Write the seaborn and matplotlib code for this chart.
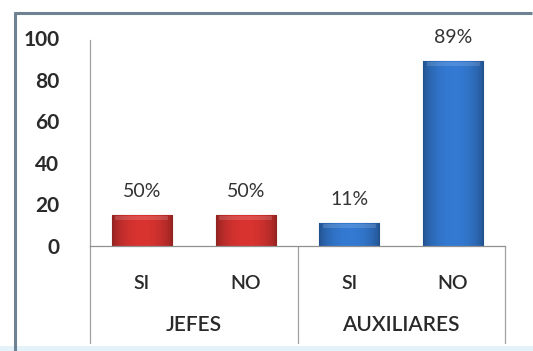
import matplotlib
matplotlib.use("Agg")
import matplotlib.pyplot as plt
import seaborn as sns
import pandas as pd
import numpy as np
from matplotlib.lines import Line2D
from matplotlib.patches import Rectangle
import matplotlib.transforms as mtransforms

groups = ["JEFES", "JEFES", "AUXILIARES", "AUXILIARES"]
answers = ["SI", "NO", "SI", "NO"]
values = [15, 15, 11, 89]
labels = ["50%", "50%", "11%", "89%"]
group_names = ["JEFES", "AUXILIARES"]
palette = {"JEFES": "#c62f2c", "AUXILIARES": "#2f6fc0"}

df = pd.DataFrame({
    "key": [f"{g}-{a}" for g, a in zip(groups, answers)],
    "group": groups,
    "answer": answers,
    "value": values,
})

sns.set_theme(style="white")
plt.rcParams["font.family"] = ["Lato", "DejaVu Sans"]

fig = plt.figure(figsize=(5.33, 3.51), dpi=100)
fig.patch.set_facecolor("white")
ax = fig.add_axes([90/533, 1-246/351, 415/533, 208/351])

sns.barplot(data=df, x="key", y="value", hue="group", palette=palette,
            dodge=False, width=0.58, ax=ax, legend=False, saturation=1)

# glossy shading overlay on each bar
xs = np.linspace(0, 1, 64)
prof = 0.72 + 0.38 * np.sin(np.pi * xs) ** 0.6
for bar in ax.patches:
    fc = np.array(bar.get_facecolor()[:3])
    bar.set_edgecolor(tuple(fc * 0.55))
    bar.set_linewidth(0.8)
    x0, y0 = bar.get_x(), bar.get_y()
    w, h = bar.get_width(), bar.get_height()
    img = np.clip(fc[None, :] * prof[:, None], 0, 1)[None, :, :]
    im = ax.imshow(img, extent=[x0, x0 + w, y0, y0 + h], aspect="auto",
                   zorder=bar.get_zorder() + 0.1, interpolation="bicubic")
    im.set_clip_path(bar)
    band = min(2.5, h * 0.2)
    top = Rectangle((x0 + w * 0.06, y0 + h - band), w * 0.88, band * 0.8,
                    facecolor="white", alpha=0.14, edgecolor="none",
                    zorder=bar.get_zorder() + 0.2)
    ax.add_patch(top)

ax.set_xlim(-0.5, 3.5)
ax.set_ylim(0, 100)
ax.set_yticks([0, 20, 40, 60, 80, 100])
ax.set_yticklabels(["0", "20", "40", "60", "80", "100"], fontsize=15,
                   fontweight="bold", color="#2a2a2a")
ax.tick_params(axis="y", length=0, pad=22)
ax.set_xticks(range(4))
ax.set_xticklabels(answers, fontsize=14, fontweight="semibold", color="#2a2a2a")
ax.tick_params(axis="x", length=0, pad=21)
ax.set_xlabel("")
ax.set_ylabel("")
for s in ["top", "right"]:
    ax.spines[s].set_visible(False)
ax.spines["left"].set_color("#a0a0a0")
ax.spines["left"].set_linewidth(0.9)
ax.spines["bottom"].set_color("#909090")
ax.spines["bottom"].set_linewidth(0.9)
ax.spines["left"].set_bounds(0, 99)

for i, (v, lab) in enumerate(zip(values, labels)):
    ax.annotate(lab, (i, v), xytext=(0, 17), textcoords="offset points",
                ha="center", va="center", fontsize=14, color="#333333")

trans = mtransforms.blended_transform_factory(ax.transData, ax.transAxes)
for xpos in [-0.5, 1.5, 3.5]:
    ax.plot([xpos, xpos], [0, -0.466], transform=trans, clip_on=False,
            color="#a0a0a0", lw=0.9)
for gi, gname in enumerate(group_names):
    ax.text(0.5 + 2*gi, -0.38, gname, transform=trans, ha="center", va="center",
            fontsize=15, fontweight="semibold", color="#2a2a2a")

# outer frame
fig.add_artist(Line2D([15/533, 15/533], [0, 1-12/351], transform=fig.transFigure,
                      color="#6e8294", lw=2.2, solid_capstyle="butt"))
fig.add_artist(Line2D([14/533, 0.999], [1-13/351, 1-13/351], transform=fig.transFigure,
                      color="#6e8294", lw=2.2, solid_capstyle="butt"))
fig.add_artist(Rectangle((0, 0), 1, 5/351, transform=fig.transFigure,
                         facecolor="#e4f2fa", edgecolor="none"))

fig.savefig("out.png", dpi=100)
